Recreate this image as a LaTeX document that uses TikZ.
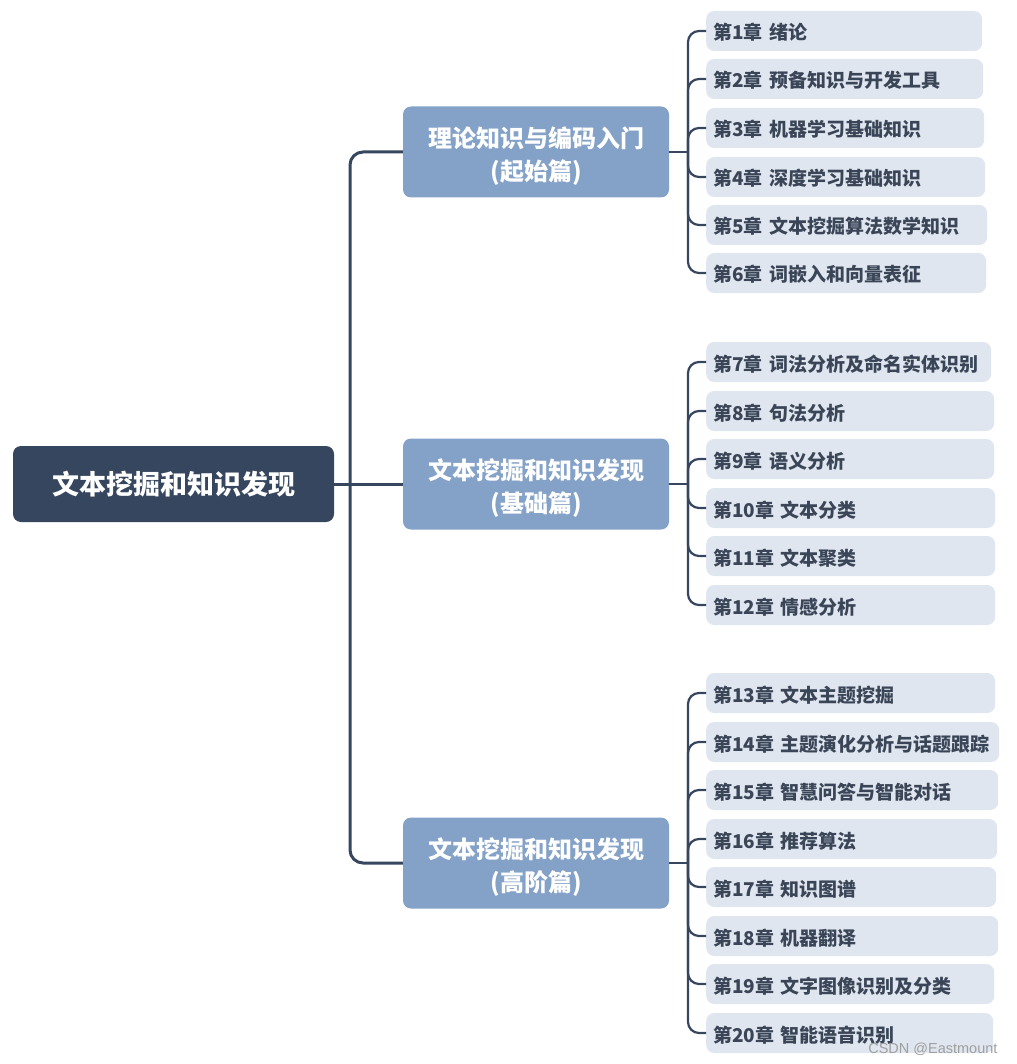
\documentclass[tikz,border=0pt]{standalone}
\usepackage{fontspec}
\setmainfont{Noto Sans CJK SC}
\setsansfont{Liberation Sans}
\definecolor{rootfill}{HTML}{36465E}
\definecolor{midfill}{HTML}{84A2C8}
\definecolor{leaffill}{HTML}{E0E6EF}
\definecolor{leaftext}{HTML}{3A4658}
\definecolor{linecol}{HTML}{36465E}
\tikzset{
  rootbox/.style={draw=none, fill=rootfill, rounded corners=8pt, text=white,
    font=\fontsize{27}{30}\selectfont\bfseries, minimum width=321pt, minimum height=76pt, inner sep=0pt,
    text height=20pt, text depth=0pt},
  midbox/.style={draw=none, fill=midfill, rounded corners=8pt, minimum width=266pt, minimum height=91pt, inner sep=0pt},
  midtext/.style={text=white, align=center, font=\fontsize{24}{33}\selectfont\bfseries, inner sep=0pt, yshift=-4pt},
  leafbox/.style={draw=none, fill=leaffill, rounded corners=8pt, text=leaftext, anchor=west, align=left,
    font=\fontsize{19}{21}\selectfont\bfseries, minimum height=40pt, inner xsep=7pt, inner ysep=0pt,
    text height=18pt, text depth=0pt},
  conn/.style={draw=linecol, line width=3pt, rounded corners=13pt},
  twig/.style={draw=linecol, line width=2.2pt, rounded corners=11pt}
}
\begin{document}
\begin{tikzpicture}[x=1pt,y=-1pt]
\useasboundingbox (0,0) rectangle (1016,1064);

% root and the three parts
\node[rootbox] (root) at (173.5,484) {文本挖掘和知识发现};
\node[midbox] (p1) at (536,152) {};
\node[midbox] (p2) at (536,484) {};
\node[midbox] (p3) at (536,863) {};
\node[midtext] (p1t) at (p1) {理论知识与编码入门\\(起始篇)};
\node[midtext] (p2t) at (p2) {文本挖掘和知识发现\\(基础篇)};
\node[midtext] (p3t) at (p3) {文本挖掘和知识发现\\(高阶篇)};

% spine from the root to the parts
\coordinate (sp) at (350,484);
\draw[conn] (root.east |- sp) -- (p2.west);
\draw[conn] (sp) |- (p1.west);
\draw[conn] (sp) |- (p3.west);

% chapters, part 1
\foreach \n/\y/\r/\t in {1/31/982/第1章 绪论, 2/79/983/第2章 预备知识与开发工具, 3/128/984/第3章 机器学习基础知识,
  4/177/985/第4章 深度学习基础知识, 5/225/987/第5章 文本挖掘算法数学知识, 6/273/986/第6章 词嵌入和向量表征}{
  \node[leafbox, text width=\r-720] (c\n) at (706,\y) {\t};
}
% chapters, part 2
\foreach \n/\y/\r/\t in {7/362/991/第7章 词法分析及命名实体识别, 8/411/994/第8章 句法分析, 9/459/994/第9章 语义分析,
  10/508/995/第10章 文本分类, 11/556/995/第11章 文本聚类, 12/605/995/第12章 情感分析}{
  \node[leafbox, text width=\r-720] (c\n) at (706,\y) {\t};
}
% chapters, part 3
\foreach \n/\y/\r/\t in {13/693/995/第13章 文本主题挖掘, 14/742/999/第14章 主题演化分析与话题跟踪, 15/790/998/第15章 智慧问答与智能对话,
  16/839/997/第16章 推荐算法, 17/887/996/第17章 知识图谱, 18/936/998/第18章 机器翻译,
  19/984/994/第19章 文字图像识别及分类, 20/1033/993/第20章 智能语音识别}{
  \node[leafbox, text width=\r-720] (c\n) at (706,\y) {\t};
}

% brackets from each part to its chapters
\coordinate (b1) at (688,152);
\draw[twig] (p1.east) -- (b1);
\foreach \n in {1,...,6}{ \draw[twig] (b1) |- (c\n.west); }
\coordinate (b2) at (688,484);
\draw[twig] (p2.east) -- (b2);
\foreach \n in {7,...,12}{ \draw[twig] (b2) |- (c\n.west); }
\coordinate (b3) at (688,863);
\draw[twig] (p3.east) -- (b3);
\foreach \n in {13,...,20}{ \draw[twig] (b3) |- (c\n.west); }

% watermark
\node[anchor=east, text=gray!75, font=\sffamily\fontsize{14.5}{16}\selectfont] (wm) at (1001,1049) {CSDN @Eastmount};
\end{tikzpicture}
\end{document}
